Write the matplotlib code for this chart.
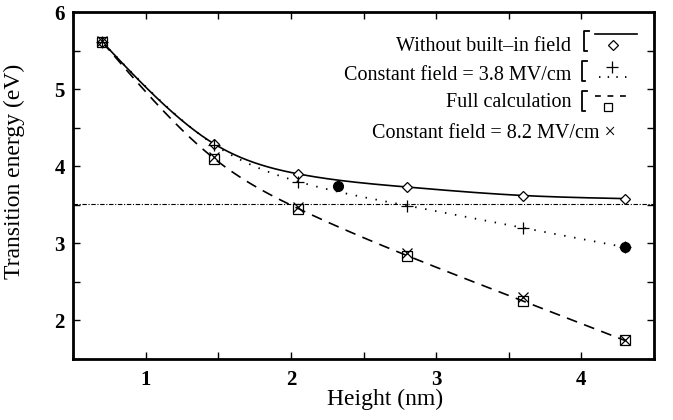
import numpy as np
import matplotlib
matplotlib.use("Agg")
import matplotlib.pyplot as plt
from matplotlib.lines import Line2D

# ---------------- data ----------------
height = [0.7, 1.47, 2.05, 2.8, 3.6, 4.3]
e_no_field = [5.61, 4.29, 3.90, 3.73, 3.62, 3.58]
e_const_38 = [5.61, 4.28, 3.80, 3.49, 3.20, 2.95]
e_full = [5.61, 4.10, 3.45, 2.84, 2.25, 1.74]
e_const_82 = [5.62, 4.12, 3.47, 2.88, 2.30, 1.74]
exp_height = [2.32, 4.3]
exp_energy = [3.74, 2.95]
ref_level = 3.51

x_ticks = [1, 2, 3, 4]
y_ticks = [2, 3, 4, 5, 6]

labels = ["Without built\u2013in field", "Constant field = 3.8 MV/cm",
          "Full calculation", "Constant field = 8.2 MV/cm \u00d7"]


def natural_spline(x, y, n=300):
    x = np.asarray(x, float)
    y = np.asarray(y, float)
    m = len(x)
    h = np.diff(x)
    A = np.zeros((m, m))
    b = np.zeros(m)
    A[0, 0] = 1
    A[-1, -1] = 1
    for i in range(1, m - 1):
        A[i, i - 1] = h[i - 1]
        A[i, i] = 2 * (h[i - 1] + h[i])
        A[i, i + 1] = h[i]
        b[i] = 6 * ((y[i + 1] - y[i]) / h[i] - (y[i] - y[i - 1]) / h[i - 1])
    M = np.linalg.solve(A, b)
    xs = np.linspace(x[0], x[-1], n)
    idx = np.clip(np.searchsorted(x, xs) - 1, 0, m - 2)
    x0, x1 = x[idx], x[idx + 1]
    hh = x1 - x0
    t0 = x1 - xs
    t1 = xs - x0
    ys = (M[idx] * t0**3 / (6 * hh) + M[idx + 1] * t1**3 / (6 * hh)
          + (y[idx] / hh - M[idx] * hh / 6) * t0
          + (y[idx + 1] / hh - M[idx + 1] * hh / 6) * t1)
    return xs, ys


plt.rcParams['font.family'] = ['Liberation Serif', 'DejaVu Serif']

W, H = 673, 420
fig = plt.figure(figsize=(W / 100, H / 100), dpi=100)
ax = fig.add_axes([73.3 / W, 1 - 359 / H, (654 - 73.3) / W, (359 - 12) / H])

dotted = (0, (0.8, 4.8))
dashed = (0, (6.5, 4.5))
dashdot = (0, (4, 1.5, 1, 1.5))

xs, ys = natural_spline(height, e_no_field)
ax.plot(xs, ys, color='black', lw=1.2)
xs, ys = natural_spline(height, e_const_38)
ax.plot(xs, ys, color='black', lw=1.3, linestyle=dotted)
xs, ys = natural_spline(height, e_full)
ax.plot(xs, ys, color='black', lw=1.2, linestyle=dashed)

ax.axhline(ref_level, color='black', lw=0.8, linestyle=dashdot)

ax.plot(height, e_no_field, linestyle='none', marker='D', ms=5.5, mfc='white',
        mec='black', mew=0.9)
ax.plot(height, e_const_38, linestyle='none', marker='+', ms=8, color='black', mew=0.9)
ax.plot(height, e_full, linestyle='none', marker='s', ms=7, mfc='none',
        mec='black', mew=0.9)
ax.plot(height, e_const_82, linestyle='none', marker='x', ms=7, color='black', mew=0.9)
ax.plot(exp_height, exp_energy, linestyle='none', marker='o', ms=7, color='black')

ax.set_xlim(0.5, 4.5)
ax.set_ylim(1.5, 6.0)
ax.set_xticks(x_ticks)
ax.set_yticks(y_ticks)
ax.set_xticks(np.arange(0.5, 4.51, 0.5), minor=True)
ax.set_yticks(np.arange(1.5, 6.01, 0.5), minor=True)
ax.tick_params(which='both', direction='in', length=5, width=1,
               top=True, right=True, labelsize=15)
ax.tick_params(axis='x', pad=8)
ax.tick_params(axis='y', pad=6)
for lab in ax.get_xticklabels() + ax.get_yticklabels():
    lab.set_fontweight('bold')
for s in ax.spines.values():
    s.set_linewidth(2)

ax.set_xlabel("Height (nm)", fontsize=17, labelpad=0)
ax.xaxis.set_label_coords(0.537, -0.085, transform=ax.transAxes)
ax.set_ylabel("Transition energy (eV)", fontsize=17)
ax.yaxis.set_label_coords(25 / W, (420 - 171) / H, transform=fig.transFigure)


def fx(px):
    return px / W


def fy(py):
    return 1 - py / H


fs = 14.5
# legend text
fig.text(fx(571), fy(51), labels[0], ha='right', va='baseline', fontsize=fs)
fig.text(fx(571), fy(79.5), labels[1], ha='right', va='baseline', fontsize=fs)
fig.text(fx(571), fy(107), labels[2], ha='right', va='baseline', fontsize=fs)
fig.text(fx(372), fy(138), labels[3], ha='left', va='baseline', fontsize=fs)

# brackets
for bx, by0, by1 in [(584, 31, 50.5), (582, 61, 81), (582, 91, 111)]:
    fig.add_artist(Line2D([fx(bx + 4.5), fx(bx), fx(bx), fx(bx + 2.5)],
                          [fy(by0), fy(by0), fy(by1), fy(by1)],
                          color='black', lw=1.3, transform=fig.transFigure))

# legend samples
fig.add_artist(Line2D([fx(595), fx(637)], [fy(33.5), fy(33.5)], color='black',
                      lw=1.2, transform=fig.transFigure))
fig.add_artist(Line2D([fx(613)], [fy(45)], linestyle='none', marker='D', ms=5.5,
                      mfc='white', mec='black', mew=0.9, transform=fig.transFigure))
fig.add_artist(Line2D([fx(599), fx(633)], [fy(77), fy(77)], color='black',
                      lw=1.3, linestyle=(0, (0.8, 4.0)), transform=fig.transFigure))
fig.add_artist(Line2D([fx(612)], [fy(66.5)], linestyle='none', marker='+', ms=8,
                      color='black', mew=0.9, transform=fig.transFigure))
fig.add_artist(Line2D([fx(595), fx(630)], [fy(96), fy(96)], color='black',
                      lw=1.2, linestyle=(0, (3.5, 4.0)), transform=fig.transFigure))
fig.add_artist(Line2D([fx(608)], [fy(107)], linestyle='none', marker='s', ms=6,
                      mfc='none', mec='black', mew=0.9, transform=fig.transFigure))

fig.savefig("out.png", dpi=100)
